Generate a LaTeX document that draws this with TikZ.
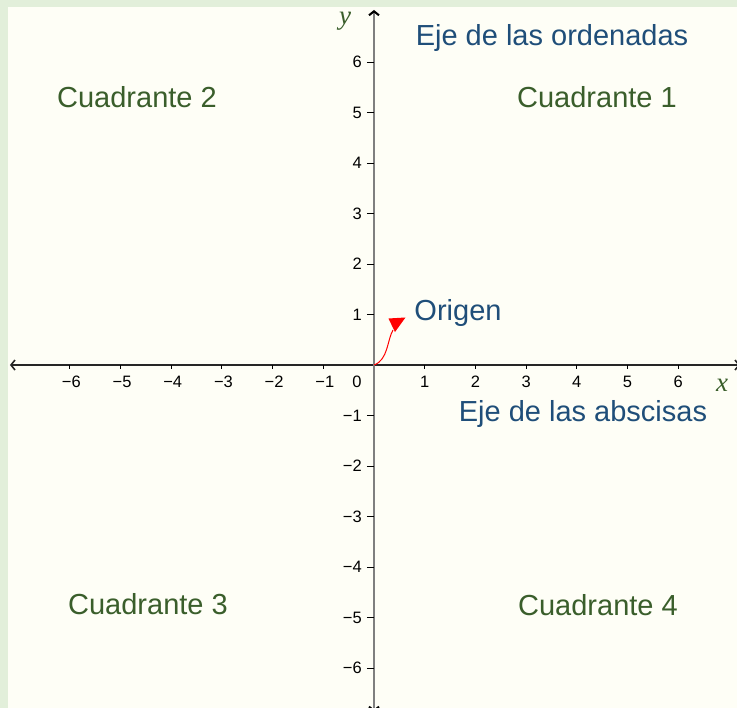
\documentclass[tikz,border=0pt]{standalone}
\usepackage{fontspec}
\setmainfont{Liberation Sans}
\newfontfamily\varfont{Liberation Serif}
\usetikzlibrary{arrows.meta}

\definecolor{PlaneBorder}{HTML}{E2EFDA}
\definecolor{PlaneCream}{HTML}{FEFEF6}
\definecolor{PlaneGreen}{HTML}{3A5E2B}
\definecolor{PlaneBlue}{HTML}{1F4E79}
\definecolor{PlaneGray}{HTML}{7F7F7F}
\definecolor{PlaneRed}{HTML}{FF0000}

\tikzset{
    % Quadrant names
    quadrant/.style={
        font=\fontsize{29}{34}\selectfont,
        text=PlaneGreen,
        anchor=base,
        inner sep=0pt
    },
    % Axis names
    axisname/.style={
        font=\fontsize{29}{34}\selectfont,
        text=PlaneBlue,
        anchor=base,
        inner sep=0pt
    },
    % Numbers on the axes
    ticklabel/.style={
        font=\fontsize{16.5}{19}\selectfont,
        inner sep=0pt
    },
    % Variable names x and y
    varlabel/.style={
        font=\varfont\itshape\fontsize{27}{31}\selectfont,
        text=PlaneGreen,
        inner sep=0pt
    },
    % Horizontal axis
    xline/.style={
        line width=1.6pt,
        draw=black!85,
        {Straight Barb[length=4pt,width=10pt]}-{Straight Barb[length=4pt,width=10pt]}
    },
    % Vertical axis
    yline/.style={
        line width=2pt,
        draw=PlaneGray,
        {Straight Barb[length=4pt,width=10pt,color=black]}-{Straight Barb[length=4pt,width=10pt,color=black]}
    },
    % Tick marks
    tickmark/.style={
        line width=1pt,
        draw=black
    }
}

\begin{document}
\begin{tikzpicture}[x=50.7pt, y=50.5pt]
        % Frame and background
        \fill[PlaneBorder] (-7.377,-6.792) rectangle (7.160,7.228);
        \fill[PlaneCream] (-7.219,-6.792) rectangle (7.160,7.089);
        \useasboundingbox (-7.377,-6.792) rectangle (7.160,7.228);

        % Axes
        \coordinate (O) at (0,0);
        \draw[xline] (-7.18,0) -- (7.22,0);
        \draw[yline] (0,-6.87) -- (0,7.03);

        % Ticks on the x axis
        \foreach \i in {1,...,6} {
            \draw[tickmark] (\i,0) -- (\i,-0.08);
            \draw[tickmark] (-\i,0) -- (-\i,-0.08);
            \node (xp\i) [ticklabel, anchor=north] at (\i,-0.218) {\i};
            \node (xm\i) [ticklabel, anchor=north] at (-\i+0.03,-0.218) {−\i};
        }
        \node (x0) [ticklabel, anchor=north] at (-0.335,-0.218) {0};

        % Ticks on the y axis
        \foreach \j in {1,...,6} {
            \draw[tickmark] (-0.14,\j) -- (0,\j);
            \draw[tickmark] (-0.14,-\j) -- (0,-\j);
            \node (yp\j) [ticklabel, anchor=east] at (-0.237,\j) {\j};
            \node (ym\j) [ticklabel, anchor=east] at (-0.237,-\j) {−\j};
        }

        % Variable names
        \node (xvar) [varlabel] at (6.864,-0.40) {x};
        \node (yvar) [varlabel] at (-0.572,6.80) {y};

        % Axis names
        \node (ordenadas) [axisname] at (3.511,6.323) {Eje de las ordenadas};
        \node (abscisas) [axisname] at (4.122,-1.122) {Eje de las abscisas};

        % Quadrants
        \node (c1) [quadrant] at (4.398,5.109) {Cuadrante 1};
        \node (c2) [quadrant] at (-4.675,5.109) {Cuadrante 2};
        \node (c3) [quadrant] at (-4.458,-4.931) {Cuadrante 3};
        \node (c4) [quadrant] at (4.418,-4.970) {Cuadrante 4};

        % Origin label and its arrow
        \node (origen) [axisname] at (1.657,0.891) {Origen};
        \coordinate (tipend) at (0.375,0.693);
        \draw[PlaneRed, line width=1pt] (O) .. controls (0.28,0.1) and (0.26,0.5) .. (tipend);
        \fill[PlaneRed] (0.286,0.921) -- (0.621,0.941) -- (0.414,0.653) -- cycle;
    \end{tikzpicture}
\end{document}
